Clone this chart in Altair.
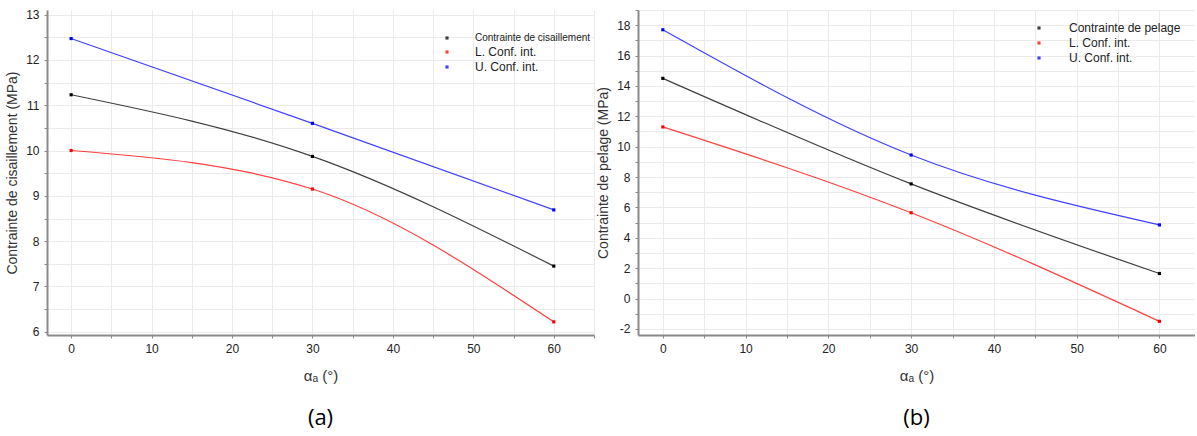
import altair as alt
import pandas as pd

angles = [0, 30, 60]

a_series = ["Contrainte de cisaillement", "L. Conf. int.", "U. Conf. int."]
a_mean = [11.23, 9.87, 7.45]
a_low = [10.0, 9.15, 6.22]
a_up = [12.47, 10.6, 8.69]

b_series = ["Contrainte de pelage", "L. Conf. int.", "U. Conf. int."]
b_mean = [14.5, 7.55, 1.65]
b_low = [11.3, 5.65, -1.5]
b_up = [17.7, 9.45, 4.85]

colors = ["#000000", "#ff0000", "#0000ff"]

x_ticks = list(range(0, 70, 5))
a_y_ticks = [6 + 0.5 * i for i in range(15)]
b_y_ticks = list(range(-2, 20))

FONT = "Liberation Sans"


def frame(series, values):
    rows = []
    for name, vals in zip(series, values):
        for a, v in zip(angles, vals):
            rows.append({"angle": a, "value": v, "series": name})
    return pd.DataFrame(rows)


def panel(df, series, ytitle, ydomain, yticks, ylabel_expr, caption, width, height, xmax,
          legx, legy, lab_offset, first_small):
    x = alt.X(
        "angle:Q",
        scale=alt.Scale(domain=[-3, xmax], nice=False, zero=False),
        axis=alt.Axis(
            values=x_ticks,
            labelExpr="datum.value % 10 === 0 ? '' + datum.value : ''",
            title="αₐ (°)",
            titleFontSize=15,
            titleFontWeight="normal",
            titleFont=FONT,
            titleColor="#333",
            titlePadding=14,
        ),
    )
    y = alt.Y(
        "value:Q",
        scale=alt.Scale(domain=ydomain, nice=False, zero=False),
        axis=alt.Axis(
            values=yticks,
            labelExpr=ylabel_expr,
            title=ytitle,
            titleFontSize=14,
            titleFontWeight="normal",
            titleFont=FONT,
            titleColor="#333",
            titlePadding=6,
        ),
    )
    leg_kw = {"labelFontSize": 12, "labelFont": FONT}
    if first_small:
        first = series[0]
        leg_kw["labelFontSize"] = alt.ExprRef(f"datum.value === '{first}' ? 10 : 12")
    legend = alt.Legend(
        orient="none",
        legendX=legx,
        legendY=legy,
        title=None,
        symbolType="square",
        symbolSize=10,
        symbolStrokeWidth=0,
        labelColor="#222",
        labelOffset=lab_offset,
        rowPadding=3,
        padding=0,
        **leg_kw,
    )
    color = alt.Color("series:N", scale=alt.Scale(domain=series, range=colors), legend=legend)
    lines = alt.Chart(df).mark_line(interpolate="monotone", strokeWidth=1.2, opacity=0.75).encode(
        x=x, y=y, color=color
    )
    pts = alt.Chart(df).mark_point(shape="square", filled=True, size=10, opacity=1).encode(
        x=x, y=y, color=color
    )
    return alt.layer(lines, pts).properties(
        width=width,
        height=height,
        title=alt.TitleParams(
            caption, orient="bottom", fontSize=22, fontWeight="normal", font="Open Sans", color="#000", offset=25
        ),
    )


pa = panel(
    frame(a_series, [a_mean, a_low, a_up]),
    a_series,
    "Contrainte de cisaillement (MPa)",
    [5.93, 13.1],
    a_y_ticks,
    "datum.value % 1 === 0 ? '' + datum.value : ''",
    "(a)",
    547,
    325,
    65,
    394,
    22,
    22,
    True,
)
pb = panel(
    frame(b_series, [b_mean, b_low, b_up]),
    b_series,
    "Contrainte de pelage (MPa)",
    [-2.4, 19.0],
    b_y_ticks,
    "datum.value % 2 === 0 ? '' + datum.value : ''",
    "(b)",
    557,
    325,
    64.3,
    395,
    12,
    24,
    False,
)

chart = (
    alt.hconcat(pa, pb, spacing=1)
    .resolve_scale(color="independent")
    .resolve_legend(color="independent")
    .properties(padding={"left": 5, "top": 8, "right": 0, "bottom": 6}, background="white")
    .configure_view(stroke=None)
    .configure_axis(
        grid=True,
        gridColor="#ebebeb",
        gridWidth=1,
        domainColor="#8a8a8a",
        domainWidth=2,
        tickColor="#8a8a8a",
        tickSize=3,
        labelFont=FONT,
        labelFontSize=12,
        labelColor="#222",
        labelPadding=5,
    )
)

chart.save("out.html", embed_options={"renderer": "svg", "actions": False})
